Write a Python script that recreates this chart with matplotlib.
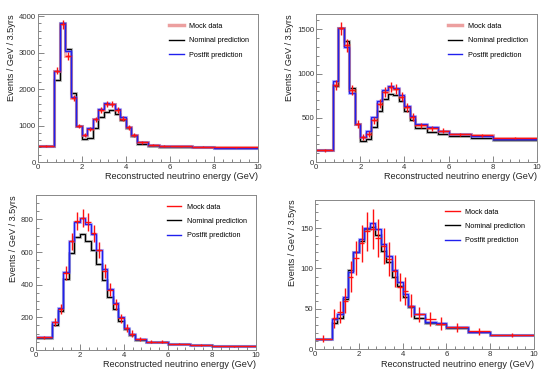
import matplotlib
matplotlib.use('Agg')
import matplotlib.pyplot as plt
from matplotlib.lines import Line2D
from matplotlib.ticker import MultipleLocator
import numpy as np

plt.rcParams['font.family'] = ['Liberation Sans', 'DejaVu Sans']

# bin edges (GeV)
edges = [0, 0.75, 1.0, 1.25, 1.5, 1.75, 2.0, 2.25, 2.5, 2.75, 3.0, 3.25, 3.5,
         3.75, 4.0, 4.25, 4.5, 5.0, 5.5, 6.0, 7.0, 8.0, 10.0]

# top-left panel
tl_data = [430, 2500, 3770, 2900, 1760, 990, 740, 900, 1170, 1430, 1590, 1580,
           1430, 1190, 950, 730, 540, 475, 440, 430, 420, 400]
tl_err = [24, 100, 123, 108, 84, 63, 54, 60, 68, 76, 80, 79,
          76, 69, 62, 54, 33, 31, 30, 21, 20, 14]
tl_nom = [430, 2260, 3800, 3110, 1880, 990, 630, 670, 940, 1245, 1365, 1430,
          1320, 1140, 930, 700, 500, 445, 400, 400, 400, 375]
tl_post = [430, 2490, 3810, 3045, 1790, 990, 745, 930, 1170, 1445, 1610, 1600,
           1445, 1230, 970, 730, 545, 465, 430, 425, 420, 390]

# top-right panel
tr_data = [130, 870, 1510, 1320, 815, 430, 280, 315, 470, 660, 795, 845,
           825, 740, 620, 505, 415, 380, 355, 315, 305, 275]
tr_err = [13, 59, 78, 73, 57, 41, 33, 35, 43, 51, 56, 58,
          57, 54, 50, 45, 29, 28, 27, 18, 17, 12]
tr_nom = [130, 860, 1520, 1365, 835, 430, 240, 260, 400, 580, 710, 770,
          760, 690, 580, 475, 385, 340, 315, 290, 270, 250]
tr_post = [132, 920, 1520, 1300, 780, 430, 280, 345, 505, 685, 810, 860,
           840, 760, 635, 520, 430, 395, 355, 320, 290, 265]

# bottom-left panel
bl_data = [77, 170, 250, 470, 665, 790, 810, 785, 715, 610, 485, 370,
           280, 195, 135, 100, 67, 50, 50, 39, 30, 22]
bl_err = [10, 26, 32, 43, 52, 56, 57, 56, 53, 49, 44, 38,
          33, 28, 23, 20, 12, 10, 10, 6, 5.5, 3.3]
bl_nom = [72, 150, 240, 435, 595, 690, 710, 665, 615, 525, 430, 325,
          250, 175, 125, 92, 62, 47, 46, 36, 30, 22]
bl_post = [78, 171, 255, 475, 670, 785, 810, 770, 710, 610, 495, 375,
           285, 200, 135, 98, 65, 50, 48, 37, 30, 22]

# bottom-right panel
br_data = [13, 38, 46, 60, 90, 113, 131, 146, 149, 138, 128, 112,
           97, 77, 72, 54, 43, 37, 31.5, 27, 22, 17.4]
br_err = [4.2, 12.3, 13.6, 15.5, 19, 21.3, 22.9, 24.2, 24.4, 23.5, 22.6, 21.2,
          19.7, 17.5, 17, 14.7, 9.3, 8.6, 7.9, 5.2, 4.7, 2.9]
br_nom = [13, 33, 38.5, 62, 98, 121, 134, 149, 151, 141, 122, 108,
          89, 78, 64, 52, 39, 33, 31, 26, 21, 17]
br_post = [12.8, 37.7, 44, 65, 95, 120, 137, 150, 156, 149, 130, 116,
           98, 83, 68, 54, 43.5, 34, 32, 27, 21.5, 17.4]

panels = [
    (tl_data, tl_err, tl_nom, tl_post, [0.069, 0.568, 0.400, 0.394], 4050, 1000, 200, True),
    (tr_data, tr_err, tr_nom, tr_post, [0.575, 0.568, 0.401, 0.394], 1670, 500, 100, True),
    (bl_data, bl_err, bl_nom, bl_post, [0.065, 0.067, 0.400, 0.413], 950, 200, 50, False),
    (br_data, br_err, br_nom, br_post, [0.573, 0.069, 0.398, 0.398], 185, 50, 10, False),
]

fig = plt.figure(figsize=(5.5, 3.75), dpi=100)
e = np.array(edges)
centers = (e[:-1] + e[1:]) / 2
halfw = (e[1:] - e[:-1]) / 2

for data, err, nom, post, pos, ytop, major, minor, band in panels:
    ax = fig.add_axes(pos)
    ax.stairs(nom, edges, color='#999999', lw=2.2, alpha=0.6, baseline=None)
    ax.stairs(nom, edges, color='black', lw=0.9, baseline=None)
    ax.stairs(post, edges, color='#8080ff', lw=2.2, alpha=0.5, baseline=None)
    if band:
        ax.stairs(data, edges, color='#e06060', lw=2.2, alpha=0.45, baseline=None)
    ax.stairs(post, edges, color='#2020ee', lw=1.0, baseline=None)
    ax.errorbar(centers, data, xerr=halfw, yerr=err, fmt='none',
                ecolor='#ff1010', elinewidth=1.0, capsize=0)

    ax.set_xlim(0, 10)
    ax.set_ylim(0, ytop)
    ax.xaxis.set_major_locator(MultipleLocator(2))
    ax.xaxis.set_minor_locator(MultipleLocator(0.4))
    ax.yaxis.set_major_locator(MultipleLocator(major))
    ax.yaxis.set_minor_locator(MultipleLocator(minor))
    ax.tick_params(which='both', direction='in', labelsize=5.6, pad=1.5,
                   color='#555555', labelcolor='#333333', width=0.5)
    ax.tick_params(which='major', length=4)
    ax.tick_params(which='minor', length=2)
    for s in ax.spines.values():
        s.set_color('#888888')
        s.set_linewidth(0.7)

    ax.set_xlabel('Reconstructed neutrino energy (GeV)', fontsize=6.6,
                  loc='right', labelpad=1, color='#222222')
    ax.set_ylabel('Events / GeV / 3.5yrs', fontsize=6.6, loc='top', labelpad=2,
                  color='#222222')

    data_handle = (Line2D([], [], color='#e06060', lw=2.5, alpha=0.6) if band
                   else Line2D([], [], color='#ff1010', lw=1.0))
    handles = [data_handle,
               Line2D([], [], color='black', lw=1.0),
               Line2D([], [], color='#2020ee', lw=1.0)]
    ax.legend(handles, ['Mock data', 'Nominal prediction', 'Postfit prediction'],
              loc='upper right', frameon=False, fontsize=5.2, handlelength=2.0,
              labelspacing=1.0, borderaxespad=0.8)

fig.savefig('out.png', dpi=100)
